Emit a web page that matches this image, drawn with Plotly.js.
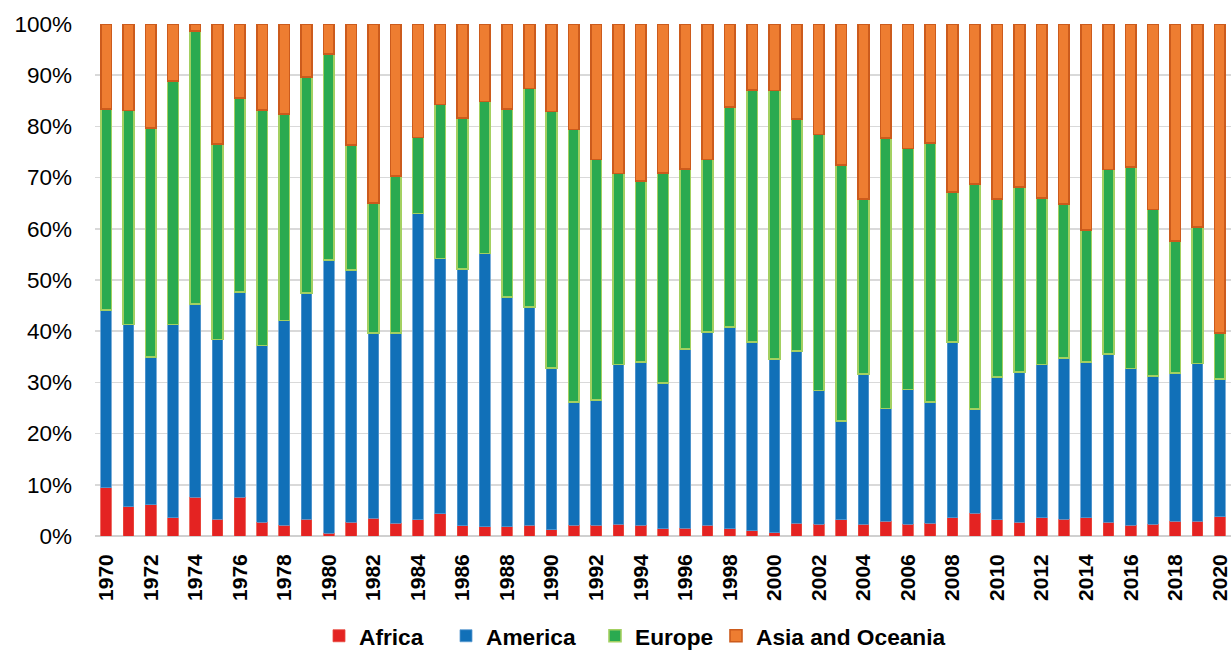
<!DOCTYPE html>
<html>
<head>
<meta charset="utf-8">
<script src="https://cdn.plot.ly/plotly-3.0.1.min.js"></script>
<style>html,body{margin:0;padding:0;background:#fff;}#chart{width:1231px;height:651px;}</style>
</head>
<body>
<div id="chart"></div>
<script>
const years = [1970,1971,1972,1973,1974,1975,1976,1977,1978,1979,1980,1981,1982,1983,1984,1985,1986,1987,1988,1989,1990,1991,1992,1993,1994,1995,1996,1997,1998,1999,2000,2001,2002,2003,2004,2005,2006,2007,2008,2009,2010,2011,2012,2013,2014,2015,2016,2017,2018,2019,2020];
const africa = [9.4,5.7,6.1,3.6,7.6,3.3,7.6,2.7,2.1,3.3,0.5,2.7,3.5,2.5,3.2,4.3,2.0,1.8,1.8,2.1,1.2,2.1,2.1,2.3,2.1,1.4,1.5,2.1,1.4,1.0,0.6,2.5,2.3,3.2,2.3,2.9,2.3,2.5,3.6,4.4,3.2,2.7,3.6,3.3,3.6,2.7,2.1,2.3,2.9,2.9,3.8];
const america = [34.7,35.6,28.9,37.7,37.7,35.1,40.0,34.5,40.0,44.2,53.4,49.2,36.1,37.1,59.8,49.9,50.1,53.4,44.9,42.6,31.6,24.1,24.5,31.2,31.9,28.5,35.0,37.7,39.4,36.9,34.0,33.6,26.1,19.3,29.3,22.0,26.3,23.7,34.3,20.4,27.9,29.3,29.9,31.5,30.4,32.9,30.6,28.9,28.9,30.8,26.9];
const europe = [39.3,41.8,44.7,47.6,53.3,38.2,37.9,46.0,40.3,42.1,40.2,24.5,25.4,30.7,14.8,30.1,29.5,29.7,36.7,42.7,50.1,53.2,46.9,37.3,35.3,41.0,35.2,33.7,43.0,49.2,52.4,45.3,50.0,50.0,34.2,52.8,47.1,50.6,29.3,43.9,34.7,36.2,32.5,30.1,25.8,36.0,39.4,32.6,25.8,26.7,8.9];
const asiaOceania = [16.6,16.9,20.3,11.1,1.4,23.4,14.5,16.8,17.6,10.4,5.9,23.6,35.0,29.7,22.2,15.7,18.4,15.1,16.6,12.6,17.1,20.6,26.5,29.2,30.7,29.1,28.3,26.5,16.2,12.9,13.0,18.6,21.6,27.5,34.2,22.3,24.3,23.2,32.8,31.3,34.2,31.8,34.0,35.1,40.2,28.4,27.9,36.2,42.4,39.6,60.4];
const seriesNames = ["Africa","America","Europe","Asia and Oceania"];

const cats = years.map(String);
const tickYears = cats.filter((c, i) => i % 2 === 0);

const styles = [
  {color:"#E42322", line:"#E84A3F", lw:0.8},
  {color:"#1170B8", line:"#5B9BD0", lw:0.8},
  {color:"#2AAA50", line:"#A3D061", lw:1.6},
  {color:"#EE7D31", line:"#CC5B1C", lw:1.6}
];
const vals = [africa, america, europe, asiaOceania];
const legendIds = ["legend", "legend2", "legend3", "legend4"];
const legendX = [319, 446, 595, 716];

const traces = vals.map((v, i) => ({
  type: "bar",
  name: seriesNames[i],
  x: cats,
  y: v,
  legend: legendIds[i],
  marker: {color: styles[i].color, line: {color: styles[i].line, width: styles[i].lw}},
  hoverinfo: "x+y+name"
}));

const layout = {
  width: 1231,
  height: 651,
  margin: {l: 95, r: 0, t: 24, b: 115},
  paper_bgcolor: "#fff",
  plot_bgcolor: "#fff",
  barmode: "stack",
  bargap: 0.52,
  font: {family: "Liberation Sans, Arial, sans-serif", color: "#000"},
  xaxis: {
    type: "category",
    tickmode: "array",
    tickvals: tickYears,
    ticktext: tickYears,
    tickangle: -90,
    tickfont: {size: 21, family: "Liberation Sans, Arial, sans-serif", weight: "bold", color: "#000"},
    showgrid: false,
    showline: false,
    ticks: "",
    ticklabelstandoff: 13,
    range: [-0.5, 50.5]
  },
  yaxis: {
    range: [0, 100],
    dtick: 10,
    ticksuffix: "%",
    tickfont: {size: 22.5, color: "#000"},
    showgrid: true,
    gridcolor: "#D9D9D9",
    gridwidth: 1.5,
    zeroline: true,
    zerolinecolor: "#D0D0D0",
    zerolinewidth: 2,
    ticks: "",
    ticklabelstandoff: 22
  },
  showlegend: true
};

legendIds.forEach((id, i) => {
  layout[id] = {
    orientation: "h",
    xref: "container",
    yref: "container",
    x: legendX[i] / 1231,
    xanchor: "left",
    y: 15 / 651,
    yanchor: "middle",
    font: {size: 22.7, weight: "bold", color: "#000"},
    bgcolor: "rgba(0,0,0,0)",
    itemwidth: 30
  };
});

Plotly.newPlot("chart", traces, layout, {displayModeBar: false, staticPlot: true});
</script>
</body>
</html>
